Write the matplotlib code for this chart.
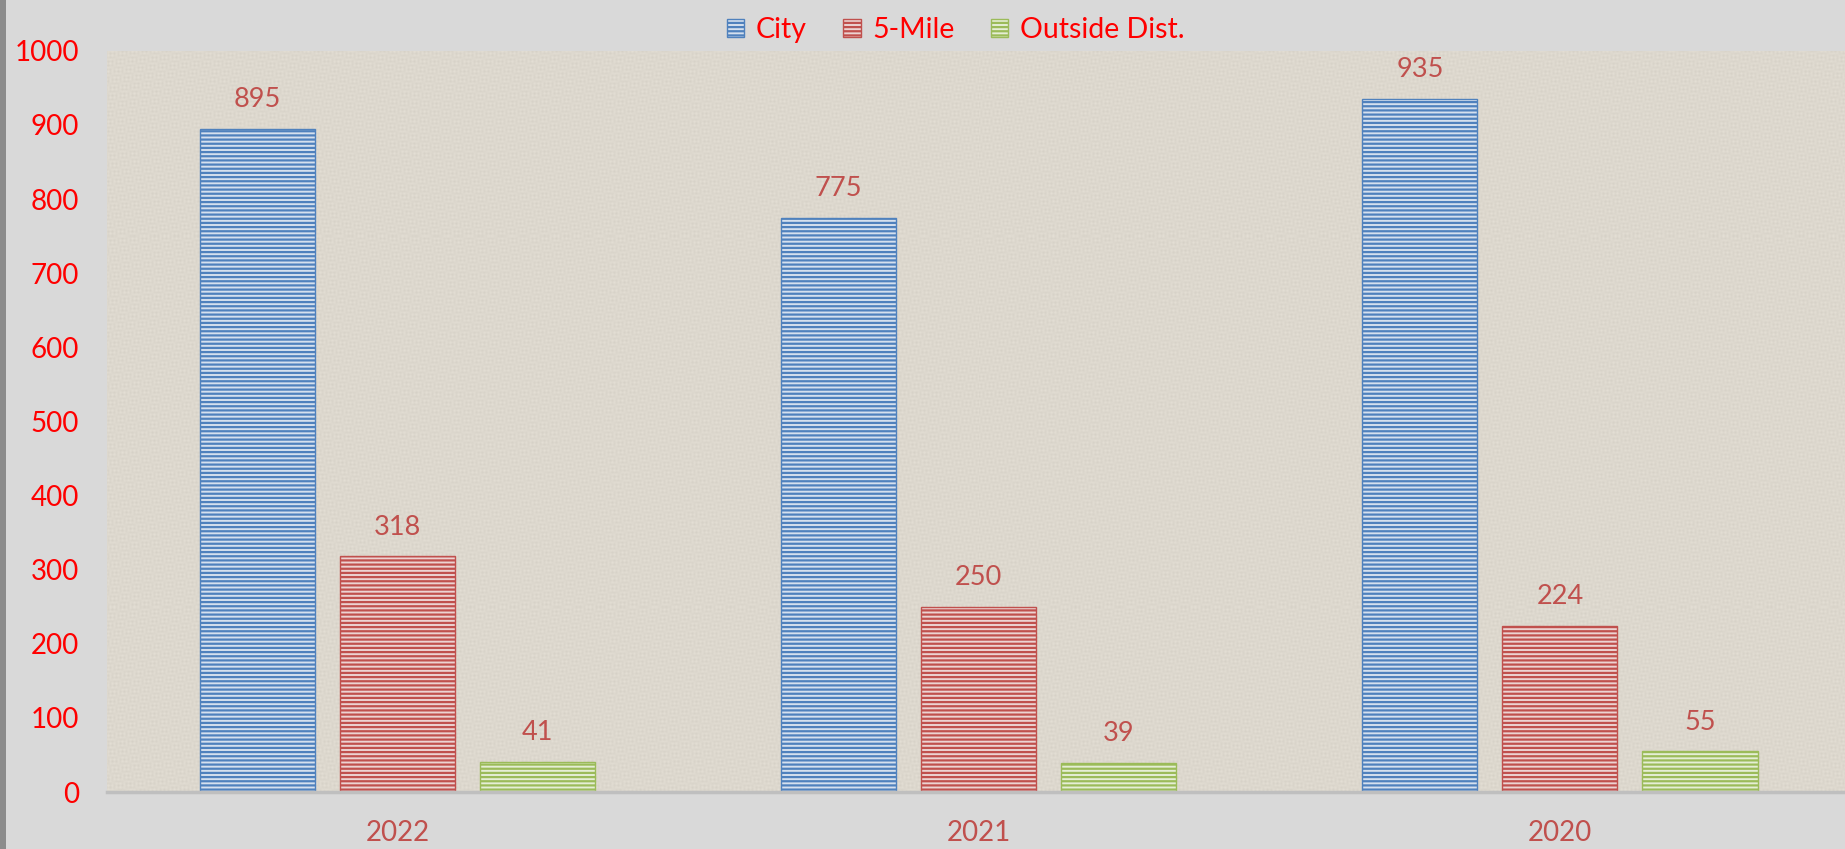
import numpy as np
import matplotlib
matplotlib.use("Agg")
import matplotlib.pyplot as plt
from matplotlib.patches import Rectangle

# Counts per year and zone
years = ["2022", "2021", "2020"]
series_names = ["City", "5-Mile", "Outside Dist."]
city = [895, 775, 935]
five_mile = [318, 250, 224]
outside = [41, 39, 55]

line_colors = ["#4f81bd", "#c0504d", "#9bbb59"]
fill_colors = ["#d5e0ee", "#ecd3d2", "#e5eed5"]

plt.rcParams["font.family"] = ["Lato", "DejaVu Sans"]
plt.rcParams["hatch.linewidth"] = 1.6

fig = plt.figure(figsize=(18.45, 8.49), dpi=100, facecolor="#d9d9d9")
ax = fig.add_axes([0.058, 0.0671, 0.945, 0.873])
ax.set_facecolor("#ddd8ce")

# linen-like weave for the plot area
rows, cols = 740, 1745
yy, xx = np.mgrid[0:rows, 0:cols]
weave = (0.5 * np.sin(xx * np.pi / 2.0) * np.sin(yy * 0.37 + np.sin(xx * 0.013) * 3)
         + 0.5 * np.sin(yy * np.pi / 2.0) * np.sin(xx * 0.29 + np.sin(yy * 0.021) * 4))
base = np.array([0xdd, 0xd8, 0xce]) / 255.0
tex = base[None, None, :] + 0.025 * weave[:, :, None]
ax.imshow(np.clip(tex, 0, 1), extent=(-0.5, 2.5, 0, 1000), aspect="auto",
          zorder=0, interpolation="nearest")

# dark strip along the left edge
fig.patches.append(Rectangle((0, 0), 0.0035, 1, transform=fig.transFigure,
                             facecolor="#8c8c8c", edgecolor="none"))

x = np.arange(len(years))
width = 0.198
step = 0.241

for i, (vals, name) in enumerate(zip([city, five_mile, outside], series_names)):
    pos = x + (i - 1) * step
    bars = ax.bar(pos, vals, width, label=name, facecolor=fill_colors[i],
                  edgecolor=line_colors[i], linewidth=1.0, hatch="----", zorder=2)
    for b, v in zip(bars, vals):
        ax.annotate(str(v), (b.get_x() + b.get_width() / 2, v),
                    xytext=(0, 12), textcoords="offset points",
                    ha="center", va="bottom", fontsize=19.5, color="#c0504d")

ax.set_xlim(-0.5, 2.5)
ax.set_ylim(0, 1000)
ax.set_yticks(range(0, 1001, 100))
ax.set_xticks(x)
ax.set_xticklabels(years)
ax.tick_params(axis="y", length=0, pad=20, labelsize=20, labelcolor="#ff0000")
ax.tick_params(axis="x", length=0, pad=20, labelsize=20, labelcolor="#c0504d")

for side in ["left", "right", "top"]:
    ax.spines[side].set_visible(False)
ax.spines["bottom"].set_color("#bfbfbf")
ax.spines["bottom"].set_linewidth(2.5)
ax.spines["bottom"].set_zorder(3)

fig.legend(loc="upper center", bbox_to_anchor=(0.518, 1.01), ncol=3,
           frameon=False, fontsize=20.5, labelcolor="#ff0000",
           handlelength=0.6, handleheight=0.6, handletextpad=0.4,
           columnspacing=1.3)

fig.savefig("out.png", dpi=100, facecolor=fig.get_facecolor())
